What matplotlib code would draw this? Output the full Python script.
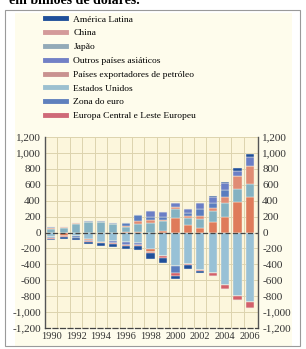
import numpy as np
import matplotlib
matplotlib.use("Agg")
import matplotlib.pyplot as plt
from matplotlib.lines import Line2D
from matplotlib.patches import Rectangle

plt.rcParams['font.family'] = ['Liberation Serif', 'DejaVu Serif']

years = list(range(1990, 2007))

# current account balances, billions of dollars
# positive side, stacked bottom -> top
oil_pos    = [0, 0, 0, 0, 0, 0, 7, 10, 0, 25, 180, 100, 60, 130, 200, 380, 440]
japan      = [45, 60, 110, 132, 130, 110, 66, 97, 120, 115, 120, 88, 112, 136, 170, 165, 175]
china_pos  = [12, 13, 5, 0, 8, 2, 7, 35, 31, 21, 20, 17, 35, 46, 70, 160, 220]
euro_pos   = [18, 0, 0, 8, 2, 8, 40, 73, 44, 39, 0, 35, 88, 60, 90, 0, 0]
asia_pos   = [0, 0, 0, 0, 0, 0, 0, 0, 70, 60, 45, 50, 70, 80, 90, 70, 110]
latam_pos  = [0, 0, 0, 0, 0, 0, 0, 0, 0, 0, 0, 0, 0, 8, 20, 30, 40]

# negative side, stacked top -> bottom
usa        = [-60, 0, -50, -85, -120, -110, -120, -135, -210, -295, -415, -395, -470, -515, -665, -800, -875]
oil_neg    = [0, -50, 0, -15, -10, 0, 0, 0, -30, 0, 0, 0, 0, 0, 0, 0, 0]
asia_neg   = [0, 0, 0, -10, 0, -25, -40, -20, 0, 0, 0, 0, 0, 0, 0, 0, 0]
euro_neg   = [-10, 0, -15, 0, 0, 0, 0, 0, 0, 0, -100, 0, 0, 0, 0, 0, 0]
cee        = [-8, -10, -8, -7, -5, -10, -15, -20, -22, -24, -26, -18, -20, -32, -42, -42, -72]
latam_neg  = [-15, -16, -20, -30, -33, -36, -35, -44, -75, -60, -40, -50, -15, 0, 0, 0, 0]

labels = ["América Latina", "China", "Japão", "Outros países asiáticos",
          "Países exportadores de petróleo", "Estados Unidos", "Zona do euro",
          "Europa Central e Leste Europeu"]
colors = {
    "América Latina": "#1f4f9a",
    "China": "#e08c74",
    "Japão": "#84b2c2",
    "Outros países asiáticos": "#6b7fc6",
    "Países exportadores de petróleo": "#df7b5a",
    "Estados Unidos": "#98c1d6",
    "Zona do euro": "#5a7dbf",
    "Europa Central e Leste Europeu": "#d3606a",
}
legend_colors = ["#1f4f9a", "#d49a9a", "#93aab8", "#7280c6",
                 "#c99290", "#9cc0d0", "#5f80bd", "#cf6a78"]

fig = plt.figure(figsize=(3.06, 3.49), dpi=100)

# page frame and pale background
fig.add_artist(Rectangle((15 / 306, 0.01), 277 / 306, 1 - 13 / 349 - 0.01,
                         transform=fig.transFigure, facecolor="#fefcec",
                         edgecolor="none", zorder=-5))
fig.add_artist(Rectangle((5 / 306, 3 / 349), 295 / 306, 1 - 13 / 349,
                         transform=fig.transFigure, facecolor="none",
                         edgecolor="#9a9a9a", lw=0.8))
# caption of the page, cut by the top edge as in the source
fig.text(0.03, 1.0, "em bilhões de dólares.", fontsize=10, weight="bold",
         va="center", ha="left")

ax = fig.add_axes([45 / 306, 1 - 328 / 349, 213 / 306, 191 / 349])
ax.set_facecolor("#fcf6dc")

x = np.array(years)
w = 0.66
edge = dict(edgecolor="#f4f1e4", linewidth=0.3)

bottom = np.zeros(len(years))
for vals, name in [(oil_pos, "Países exportadores de petróleo"), (japan, "Japão"),
                   (china_pos, "China"), (euro_pos, "Zona do euro"),
                   (asia_pos, "Outros países asiáticos"), (latam_pos, "América Latina")]:
    v = np.array(vals, dtype=float)
    ax.bar(x, v, w, bottom=bottom, color=colors[name], zorder=3, **edge)
    bottom += v

bottom = np.zeros(len(years))
for vals, name in [(usa, "Estados Unidos"), (oil_neg, "Países exportadores de petróleo"),
                   (asia_neg, "Outros países asiáticos"), (euro_neg, "Zona do euro"),
                   (cee, "Europa Central e Leste Europeu"), (latam_neg, "América Latina")]:
    v = np.array(vals, dtype=float)
    ax.bar(x, v, w, bottom=bottom, color=colors[name], zorder=3, **edge)
    bottom += v

ax.axhline(0, color="#444444", lw=0.9, ls=(0, (4, 2)), zorder=4)

ax.set_xlim(1989.5, 2006.65)
ax.set_ylim(-1200, 1200)
yt = np.arange(-1200, 1201, 200)
ax.set_yticks(yt)
ax.set_yticklabels([f"{v:,}" for v in yt])
ax.set_xticks(years[::2])
ax.set_xticks(np.arange(1990.5, 2006, 1), minor=True)
ax.grid(which="minor", axis="x", color="#ddd3ae", lw=0.7, zorder=0)
ax.grid(which="major", axis="y", color="#ddd3ae", lw=0.7, zorder=0)
ax.tick_params(axis="x", which="both", length=0, labelsize=7.5, pad=3)
ax.tick_params(axis="y", which="both", length=0, labelsize=8, pad=3,
               labelright=True, labelleft=True, labelcolor="#333333")
ax.tick_params(axis="x", labelcolor="#333333")

ax.spines["top"].set_visible(False)
for s in ["left", "right"]:
    ax.spines[s].set_color("#555555")
    ax.spines[s].set_linewidth(1.0)
ax.spines["bottom"].set_color("#444444")
ax.spines["bottom"].set_linestyle((0, (4, 2)))
ax.spines["bottom"].set_linewidth(0.9)

handles = [Line2D([], [], color=c, lw=3.5) for c in legend_colors]
fig.legend(handles, labels, loc="upper left", bbox_to_anchor=(45 / 306, 1 - 15 / 349),
           frameon=False, fontsize=6.8, handlelength=2.2, handletextpad=0.8,
           labelspacing=0.55, borderpad=0, borderaxespad=0)

fig.savefig("out.png", dpi=100)
